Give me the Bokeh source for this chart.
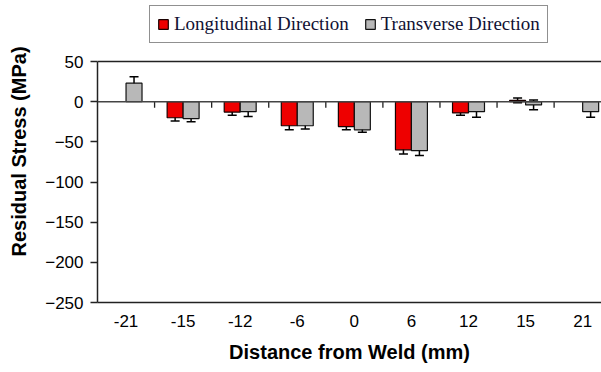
from bokeh.plotting import figure
from bokeh.models import (ColumnDataSource, Whisker, TeeHead, Span,
                          FixedTicker, Legend, LegendItem, Range1d)
from bokeh.embed import file_html
from bokeh.resources import INLINE

# ---- data ----
distances = ["-21", "-15", "-12", "-6", "0", "6", "12", "15", "21"]
long_vals = [None, -20, -13, -30, -31, -60, -14, 1.5, None]
long_err = [None, 4, 4, 5, 4, 5, 3, 3, None]
trans_vals = [23, -21, -12.5, -30, -35, -61, -12.5, -4, -12.5]
trans_err = [8, 4, 6, 4, 3, 6, 7, 6, 7]
y_ticks = [50, 0, -50, -100, -150, -200, -250]
Y_MIN, Y_MAX = -250, 50

BAR_W = 0.28
centers = [i + 0.5 for i in range(len(distances))]

def build(vals, errs, offset):
    xs, tops, ups, lows = [], [], [], []
    for c, v, e in zip(centers, vals, errs):
        if v is None:
            continue
        xs.append(c + offset)
        tops.append(v)
        ups.append(v + e)
        lows.append(v - e)
    return ColumnDataSource(dict(x=xs, top=tops, upper=ups, lower=lows))

src_l = build(long_vals, long_err, -BAR_W / 2)
src_t = build(trans_vals, trans_err, BAR_W / 2)

# frame spans the full top; the plotted box ends at Y_MAX, space above holds the legend
FRAME_H = 302
BOX_H = 241
y_top = Y_MAX + (FRAME_H - BOX_H) * (Y_MAX - Y_MIN) / BOX_H

p = figure(width=601, height=372, x_range=Range1d(0, 8.83), y_range=Range1d(Y_MIN, y_top),
           output_backend="svg", toolbar_location=None,
           min_border_left=97, min_border_right=0, min_border_top=0, min_border_bottom=70)
p.outline_line_color = None
p.grid.visible = False
p.background_fill_color = "white"

r_l = p.vbar(x="x", top="top", bottom=0, width=BAR_W, source=src_l,
             fill_color="#ee0000", line_color="#1a0000", line_width=1.2)
r_t = p.vbar(x="x", top="top", bottom=0, width=BAR_W, source=src_t,
             fill_color="#b8b8b8", line_color="#111111", line_width=1.2)

for src in (src_l, src_t):
    w = Whisker(base="x", upper="upper", lower="lower", source=src,
                line_color="black", line_width=1.5,
                upper_head=TeeHead(size=9, line_color="black", line_width=1.5),
                lower_head=TeeHead(size=9, line_color="black", line_width=1.5))
    p.add_layout(w)

# zero line, top border and category separators
p.add_layout(Span(location=0, dimension="width", line_color="#444444", line_width=1.5))
p.add_layout(Span(location=Y_MAX, dimension="width", line_color="#222222", line_width=1.5))
sep_x = list(range(1, len(distances)))
p.segment(x0=sep_x, y0=[0] * len(sep_x), x1=sep_x, y1=[-7.5] * len(sep_x),
          line_color="#222222", line_width=1.3)

# axes
xa = p.xaxis[0]
xa.ticker = FixedTicker(ticks=centers)
xa.major_label_overrides = {c: d for c, d in zip(centers, distances)}
xa.major_tick_out = 0
xa.major_tick_in = 0
xa.minor_tick_out = 0
xa.minor_tick_in = 0
xa.axis_line_color = "#222222"
xa.axis_line_width = 1.5
xa.major_label_standoff = 12
xa.major_label_text_font = "Liberation Sans"
xa.major_label_text_font_size = "17px"
xa.major_label_text_color = "black"
xa.axis_label = "Distance from Weld (mm)"
xa.axis_label_text_font = "Liberation Sans"
xa.axis_label_text_font_style = "bold"
xa.axis_label_text_font_size = "20px"
xa.axis_label_text_color = "black"
xa.axis_label_standoff = 11

ya = p.yaxis[0]
ya.ticker = FixedTicker(ticks=y_ticks)
ya.bounds = (Y_MIN, Y_MAX)
ya.major_tick_out = 7
ya.major_tick_in = 0
ya.minor_tick_out = 0
ya.minor_tick_in = 0
ya.axis_line_color = "#222222"
ya.axis_line_width = 1.5
ya.major_tick_line_color = "#222222"
ya.major_tick_line_width = 1.3
ya.major_label_standoff = 7
ya.major_label_text_font = "Liberation Sans"
ya.major_label_text_font_size = "17px"
ya.major_label_text_color = "black"
ya.axis_label = "Residual Stress (MPa)"
ya.axis_label_text_font = "Liberation Sans"
ya.axis_label_text_font_style = "bold"
ya.axis_label_text_font_size = "20px"
ya.axis_label_text_color = "black"
ya.axis_label_standoff = 12

legend = Legend(items=[LegendItem(label="Longitudinal Direction", renderers=[r_l]),
                       LegendItem(label="Transverse Direction", renderers=[r_t])],
                orientation="horizontal", location=(52, 259),
                label_text_font="Liberation Serif", label_text_font_size="19px",
                label_text_color="#111133", glyph_width=12, glyph_height=12,
                label_standoff=5, spacing=15, padding=7, margin=0,
                border_line_color="#222222", border_line_width=1.5,
                background_fill_color="white", background_fill_alpha=1.0)
p.add_layout(legend)

open("out.html", "w").write(file_html(p, INLINE))
